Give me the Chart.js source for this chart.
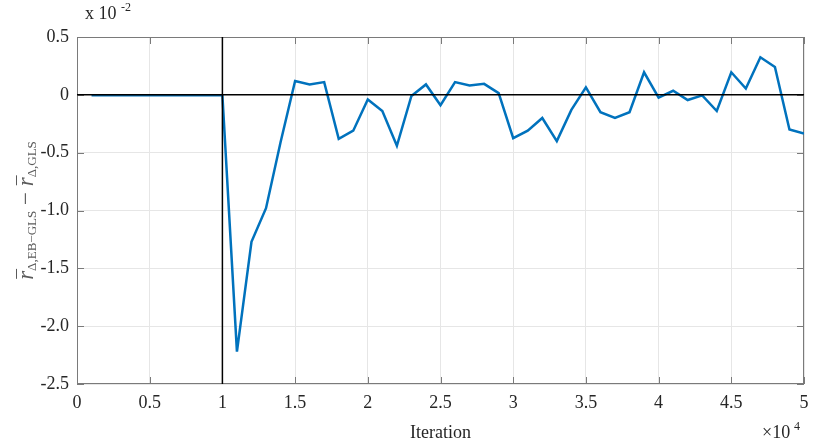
<!DOCTYPE html>
<html>
<head>
<meta charset="utf-8">
<script src="https://cdn.jsdelivr.net/npm/chart.js@4/dist/chart.umd.min.js"></script>
<style>
  html, body { margin: 0; padding: 0; background: #fff; }
  #wrap { width: 830px; height: 448px; }
</style>
</head>
<body>
<div id="wrap"><canvas id="chart" width="830" height="448"></canvas></div>
<script>
// iteration, in units of 10^4
const iterations = [
  0.1, 0.2, 0.3, 0.4, 0.5, 0.6, 0.7, 0.8, 0.9, 1.0,
  1.1, 1.2, 1.3, 1.4, 1.5, 1.6, 1.7, 1.8, 1.9, 2.0,
  2.1, 2.2, 2.3, 2.4, 2.5, 2.6, 2.7, 2.8, 2.9, 3.0,
  3.1, 3.2, 3.3, 3.4, 3.5, 3.6, 3.7, 3.8, 3.9, 4.0,
  4.1, 4.2, 4.3, 4.4, 4.5, 4.6, 4.7, 4.8, 4.9, 5.0
];
// r(EB-GLS) - r(GLS), in units of 10^-2
const rDiff = [
  -0.003, -0.003, -0.003, -0.003, -0.003, -0.003, -0.003, -0.003, -0.003, -0.003,
  -2.22, -1.27, -0.98, -0.41, 0.12, 0.09, 0.11, -0.38, -0.31, -0.04,
  -0.14, -0.44, -0.01, 0.09, -0.09, 0.11, 0.08, 0.095, 0.015, -0.375,
  -0.31, -0.20, -0.40, -0.13, 0.065, -0.15, -0.20, -0.15, 0.195, -0.025,
  0.035, -0.045, -0.005, -0.14, 0.195, 0.055, 0.325, 0.24, -0.30, -0.335
];
const xTicks = [0, 0.5, 1, 1.5, 2, 2.5, 3, 3.5, 4, 4.5, 5];
const yTicks = [-2.5, -2.0, -1.5, -1.0, -0.5, 0, 0.5];
const refX = 1;
const refY = 0;

const serif = "'Liberation Serif', 'DejaVu Serif', serif";
const tickColor = '#262626';
const boxColor = '#7a7a7a';

const decorations = {
  id: 'decorations',
  beforeDatasetsDraw(chart) {
    const { ctx, chartArea: a } = chart;
    ctx.save();
    ctx.strokeStyle = boxColor;
    ctx.lineWidth = 1;
    ctx.strokeRect(a.left + 0.5, a.top + 0.5, a.right - a.left - 1, a.bottom - a.top - 1);
    // inward tick marks
    const xs = chart.scales.x, ys = chart.scales.y;
    ctx.beginPath();
    xTicks.forEach(v => {
      const px = Math.round(xs.getPixelForValue(v)) + 0.5;
      ctx.moveTo(px, a.bottom); ctx.lineTo(px, a.bottom - 7);
      ctx.moveTo(px, a.top); ctx.lineTo(px, a.top + 7);
    });
    yTicks.forEach(v => {
      const py = Math.round(ys.getPixelForValue(v)) + 0.5;
      ctx.moveTo(a.left, py); ctx.lineTo(a.left + 7, py);
      ctx.moveTo(a.right, py); ctx.lineTo(a.right - 7, py);
    });
    ctx.stroke();
    ctx.restore();
  },
  afterDatasetsDraw(chart) {
    const { ctx, chartArea: a } = chart;
    const xs = chart.scales.x, ys = chart.scales.y;
    ctx.save();
    ctx.strokeStyle = '#000';
    ctx.lineWidth = 1.5;
    ctx.beginPath();
    const px = xs.getPixelForValue(refX);
    ctx.moveTo(px, a.top); ctx.lineTo(px, a.bottom);
    const py = ys.getPixelForValue(refY);
    ctx.moveTo(a.left, py); ctx.lineTo(a.right, py);
    ctx.stroke();
    ctx.restore();
  },
  afterDraw(chart) {
    const { ctx, chartArea: a } = chart;
    ctx.save();
    ctx.fillStyle = tickColor;
    ctx.textBaseline = 'alphabetic';
    ctx.textAlign = 'left';

    // y exponent
    ctx.font = `18px ${serif}`;
    ctx.fillText('x 10', 85, 19);
    ctx.font = `12px ${serif}`;
    ctx.fillText('-2', 121, 11);

    // x axis title
    ctx.font = `18px ${serif}`;
    ctx.textAlign = 'center';
    ctx.fillText('Iteration', (a.left + a.right) / 2, 438);

    // x exponent
    ctx.textAlign = 'left';
    ctx.fillText('\u00d710', 762, 438);
    ctx.font = `12px ${serif}`;
    ctx.fillText('4', 794, 430);

    // y axis title with overlines and subscripts
    const parts = [
      { t: 'r', size: 23, italic: true, bar: true, dy: 0 },
      { t: '\u0394,EB\u2212GLS', size: 13, dy: 3 },
      { t: ' \u2212 ', size: 23, dy: 0 },
      { t: 'r', size: 23, italic: true, bar: true, dy: 0 },
      { t: '\u0394,GLS', size: 13, dy: 3 }
    ];
    const fontOf = p => `${p.italic ? 'italic ' : ''}${p.size}px ${serif}`;
    let total = 0;
    parts.forEach(p => { ctx.font = fontOf(p); p.w = ctx.measureText(p.t).width; total += p.w; });
    ctx.translate(33, (a.top + a.bottom) / 2);
    ctx.rotate(-Math.PI / 2);
    ctx.fillStyle = '#5a5a5a';
    ctx.strokeStyle = '#5a5a5a';
    ctx.lineWidth = 1;
    let x = -total / 2;
    parts.forEach(p => {
      ctx.font = fontOf(p);
      ctx.fillText(p.t, x, p.dy);
      if (p.bar) {
        ctx.beginPath();
        ctx.moveTo(x + 1, -16.5);
        ctx.lineTo(x + p.w + 2, -16.5);
        ctx.stroke();
      }
      x += p.w;
    });
    ctx.restore();
  }
};

new Chart(document.getElementById('chart'), {
  type: 'line',
  data: {
    datasets: [{
      data: iterations.map((v, i) => ({ x: v, y: rDiff[i] })),
      borderColor: '#0072BD',
      borderWidth: 2.5,
      pointRadius: 0,
      tension: 0,
      fill: false
    }]
  },
  options: {
    responsive: false,
    animation: false,
    layout: { padding: { top: 37, right: 26, left: 0, bottom: 0 } },
    plugins: { legend: { display: false }, tooltip: { enabled: false } },
    scales: {
      x: {
        type: 'linear',
        min: 0,
        max: 5,
        afterFit: s => { s.height = 64; },
        afterBuildTicks: s => { s.ticks = xTicks.map(v => ({ value: v })); },
        grid: { color: '#e6e6e6', drawTicks: false },
        border: { display: false },
        ticks: {
          color: tickColor,
          padding: 8,
          maxRotation: 0,
          font: { family: serif, size: 18 },
          callback: v => String(v)
        }
      },
      y: {
        type: 'linear',
        min: -2.5,
        max: 0.5,
        afterFit: s => { s.width = 77; },
        afterBuildTicks: s => { s.ticks = yTicks.map(v => ({ value: v })); },
        grid: { color: '#e6e6e6', drawTicks: false },
        border: { display: false },
        ticks: {
          color: tickColor,
          padding: 8,
          font: { family: serif, size: 18 },
          callback: v => (v === 0 ? '0' : v.toFixed(1))
        }
      }
    }
  },
  plugins: [decorations]
});
</script>
</body>
</html>
